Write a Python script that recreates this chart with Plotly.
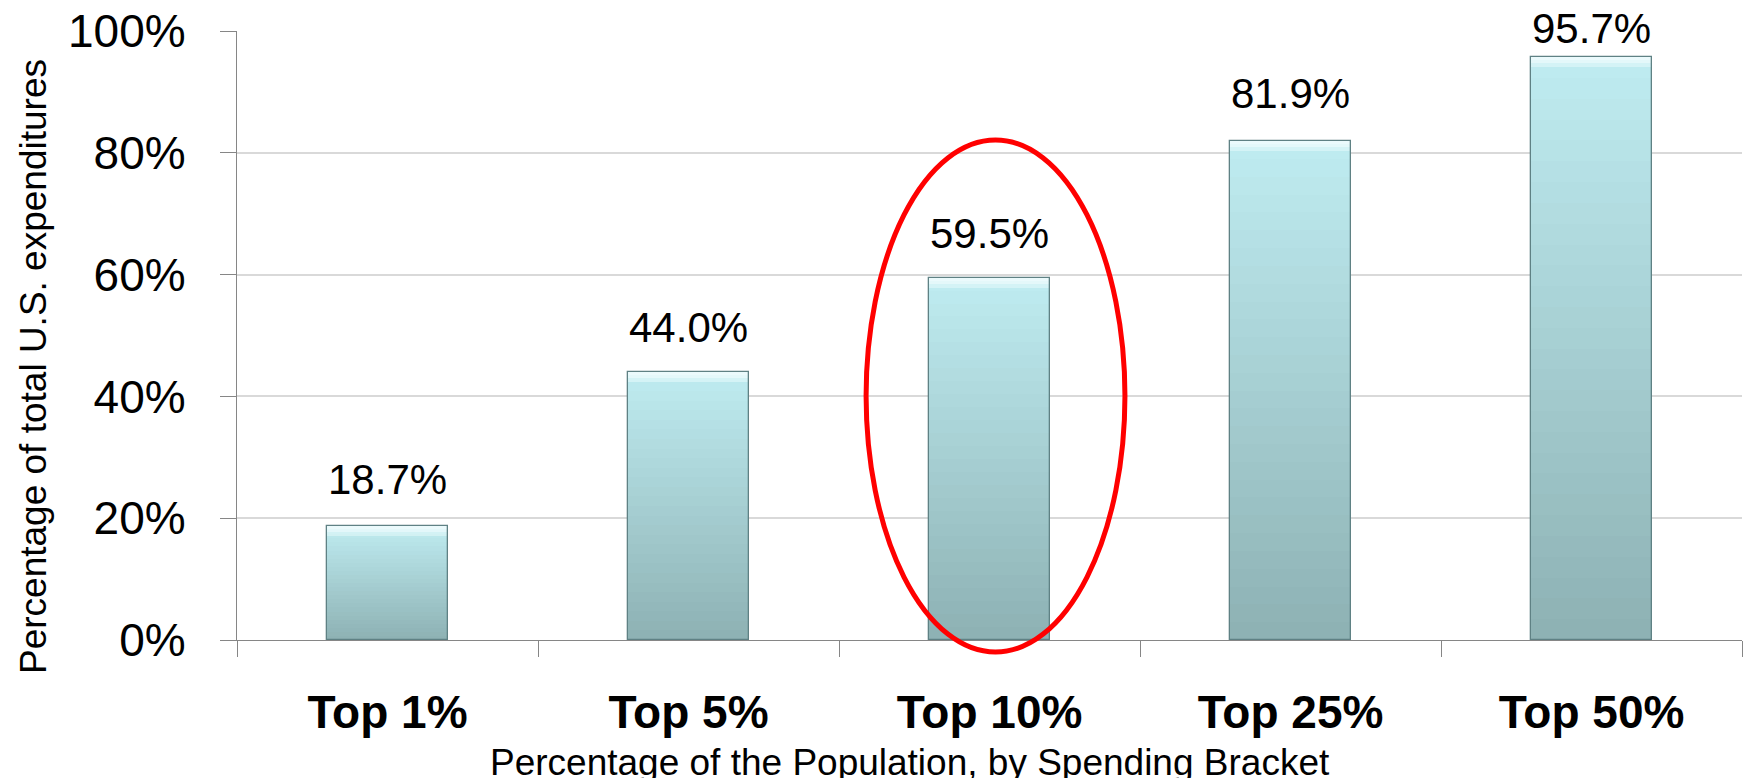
import numpy as np
import plotly.graph_objects as go

# ---- data ----
brackets = ["Top 1%", "Top 5%", "Top 10%", "Top 25%", "Top 50%"]
share_pct = [18.7, 44.0, 59.5, 81.9, 95.7]
y_ticks = [0, 20, 40, 60, 80, 100]
y_tick_text = ["0%", "20%", "40%", "60%", "80%", "100%"]
highlight_index = 2  # "Top 10%"

# ---- geometry ----
W, H = 1743, 778
M_L, M_R, M_T, M_B = 237, 1, 31, 138
plot_h = H - M_T - M_B
px_per_pct = plot_h / 100.0
Y_MAX = 100.0

FONT = "Liberation Sans, Arial, sans-serif"
BAR_W = 0.40
N_SEG = 28
TOP_RGB = np.array([191, 236, 241])
BOT_RGB = np.array([141, 177, 179])

x_pos = list(range(len(brackets)))
values = np.array(share_pct)

fig = go.Figure()

# vertical gradient inside every bar, built from stacked slices of each value
for k in range(N_SEG):
    t = (k + 0.5) / N_SEG
    rgb = (BOT_RGB + (TOP_RGB - BOT_RGB) * t).round().astype(int)
    fig.add_trace(go.Bar(
        x=x_pos, y=values / N_SEG, base=values * k / N_SEG,
        width=BAR_W, marker=dict(color=f"rgb({rgb[0]},{rgb[1]},{rgb[2]})", line=dict(width=0)),
        hoverinfo="skip", showlegend=False,
    ))

# soft light bevel along the top of each bar
for frac, alpha in [(1.0, 0.45), (0.6, 0.55), (0.3, 0.6)]:
    bevel = 10 * frac / px_per_pct
    fig.add_trace(go.Bar(
        x=x_pos, y=[bevel] * len(values), base=values - bevel,
        width=BAR_W, marker=dict(color=f"rgba(240,252,253,{alpha})", line=dict(width=0)),
        hoverinfo="skip", showlegend=False,
    ))

# dark outline of each bar
fig.add_trace(go.Bar(
    x=x_pos, y=values, width=BAR_W,
    marker=dict(color="rgba(0,0,0,0)", line=dict(color="#5f8184", width=1.3)),
    hoverinfo="skip", showlegend=False,
))

# value labels above the bars
label_lift = [21, 19, 19, 22, 3]
for i, v in enumerate(share_pct):
    fig.add_annotation(
        x=i, y=v, xref="x", yref="y", text=f"{v:.1f}%",
        showarrow=False, yanchor="bottom", yshift=label_lift[i],
        font=dict(family=FONT, size=42, color="#000000"),
    )

# red ellipse around the highlighted bracket (y given as fraction of the 0-100% range)
cx, rx = highlight_index + 0.02, 0.43
y_low, y_high = -1.97, 82.1
fig.add_shape(
    type="circle", xref="x", yref="paper",
    x0=cx - rx, x1=cx + rx, y0=y_low / Y_MAX, y1=y_high / Y_MAX,
    line=dict(color="#ff0000", width=5), fillcolor="rgba(0,0,0,0)", layer="above",
)

# axis titles
fig.add_annotation(
    x=(33 - M_L) / (W - M_L - M_R), y=(H - M_B - 367) / plot_h,
    xref="paper", yref="paper", text="Percentage of total U.S. expenditures",
    textangle=-90, showarrow=False, xanchor="center", yanchor="middle",
    font=dict(family=FONT, size=37, color="#000000"),
)
fig.add_annotation(
    x=(910 - M_L) / (W - M_L - M_R), y=(H - M_B - 762) / plot_h,
    xref="paper", yref="paper", text="Percentage of the Population, by Spending Bracket",
    showarrow=False, xanchor="center", yanchor="middle",
    font=dict(family=FONT, size=37, color="#000000"),
)

fig.update_layout(
    width=W, height=H,
    margin=dict(l=M_L, r=M_R, t=M_T, b=M_B, pad=0),
    paper_bgcolor="white", plot_bgcolor="white",
    barmode="overlay", bargap=0,
    showlegend=False,
    font=dict(family=FONT, color="#000000"),
)
fig.update_xaxes(
    range=[-0.5, len(brackets) - 0.5],
    tickmode="array", tickvals=x_pos, ticktext=[f"<b>{b}</b>" for b in brackets],
    ticks="", ticklabelstandoff=32,
    tickfont=dict(family=FONT, size=46, color="#000000"),
    minor=dict(tickmode="array", tickvals=[i - 0.5 for i in range(len(brackets) + 1)],
               ticks="outside", ticklen=16, tickcolor="#868686", tickwidth=1.3, showgrid=False),
    showline=True, linecolor="#868686", linewidth=1.3,
    showgrid=False, zeroline=False, fixedrange=True,
)
fig.update_yaxes(
    range=[0, Y_MAX],
    tickmode="array", tickvals=y_ticks, ticktext=y_tick_text,
    ticks="outside", ticklen=16, tickcolor="#868686", tickwidth=1.3,
    ticklabelstandoff=25,
    tickfont=dict(family=FONT, size=46, color="#000000"),
    showline=True, linecolor="#868686", linewidth=1.3,
    showgrid=True, gridcolor="#d9d9d9", gridwidth=1.6,
    zeroline=False, fixedrange=True,
)

fig.write_html("out.html")
